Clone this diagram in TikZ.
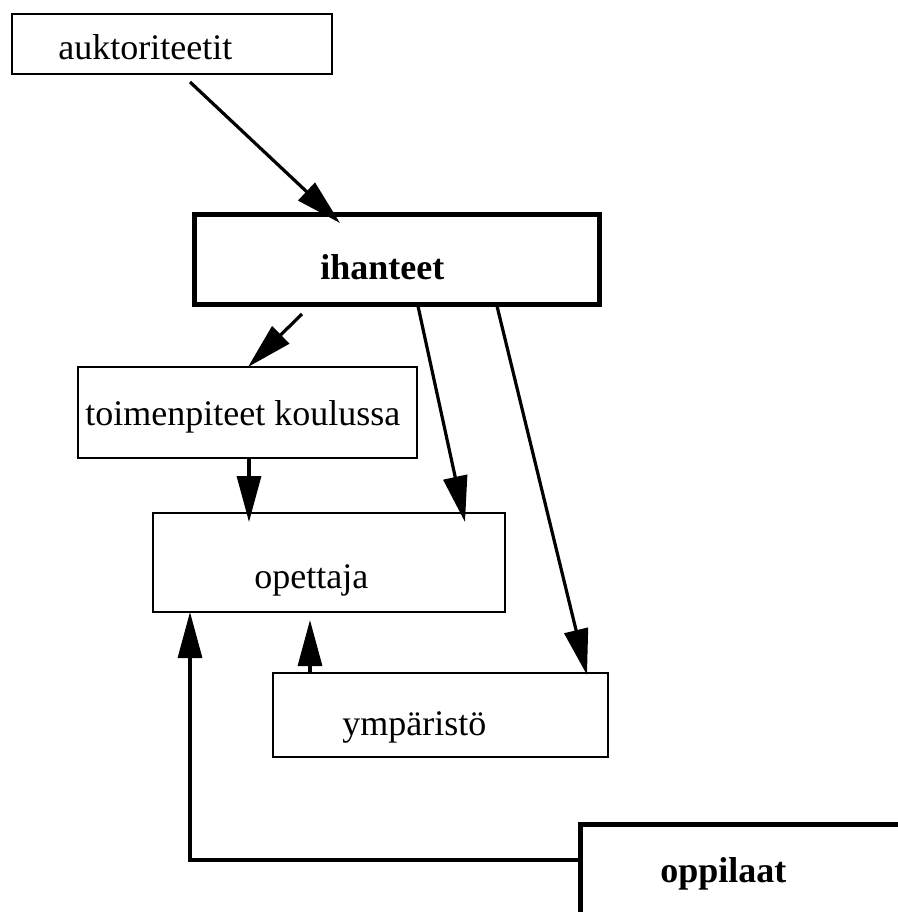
\documentclass[tikz,border=0pt]{standalone}
\usepackage{fontspec}
\setmainfont{Liberation Serif}
\usetikzlibrary{arrows.meta,calc}
\begin{document}
\begin{tikzpicture}[x=0.5pt,y=-0.5pt,
  box/.style={draw,rectangle,line width=1.3pt,inner sep=0pt,outer sep=0pt},
  bigbox/.style={draw,rectangle,line width=2.5pt,inner sep=0pt,outer sep=0pt},
  lbl/.style={anchor=base west,inner sep=0pt,font=\fontsize{18pt}{20pt}\selectfont},
  blbl/.style={anchor=base west,inner sep=0pt,font=\fontsize{18pt}{20pt}\selectfont\bfseries},
  conn/.style={line width=1.6pt,-{Triangle[length=23pt,width=12pt]}}]
\useasboundingbox (0,0) rectangle (898,912);
\clip (0,0) rectangle (898,912);

% boxes
\node[box,minimum width=160pt,minimum height=30pt] (auk) at (172,44) {};
\node[bigbox,minimum width=202.5pt,minimum height=45pt] (ihanteet) at (397,259.5) {};
\node[box,minimum width=169.5pt,minimum height=45.5pt] (toim) at (247.5,412.5) {};
\node[box,minimum width=176pt,minimum height=49.5pt] (opettaja) at (329,562.5) {};
\node[box,minimum width=167.5pt,minimum height=42pt] (ymp) at (440.5,715) {};
\node[bigbox,minimum width=190pt,minimum height=88pt] (oppilaat) at (770,912) {};

% labels
\node[lbl] (tauk) at (58,59) {auktoriteetit};
\node[blbl] (tihanteet) at (320,279) {ihanteet};
\node[lbl] (ttoim) at (85,425) {toimenpiteet koulussa};
\node[lbl] (topettaja) at (254,588) {opettaja};
\node[lbl] (tymp) at (342,735) {ympäristö};
\node[blbl] (toppilaat) at (660,882) {oppilaat};

% connectors
\draw[conn] ($(auk.south west)+(178,8)$) -- ($(ihanteet.north west)+(145.5,8.5)$);
\draw[conn] ($(ihanteet.south west)+(107.5,9.5)$) -- ($(toim.north west)+(170,0)$);
\draw[conn] ($(toim.south west)+(171,0)$) -- ($(opettaja.north west)+(96,9)$);
\draw[conn] ($(ihanteet.south west)+(223.5,1.5)$) -- ($(opettaja.north west)+(312,9)$);
\draw[conn] ($(ihanteet.south west)+(302.5,1.5)$) -- ($(ymp.north west)+(314,2)$);
\draw[conn] ($(ymp.north west)+(37,0)$) -- ($(opettaja.south west)+(157,8)$);
\draw[conn] ($(oppilaat.north west)+(0,36)$) -| ($(opettaja.south west)+(37,0)$);
\end{tikzpicture}
\end{document}
